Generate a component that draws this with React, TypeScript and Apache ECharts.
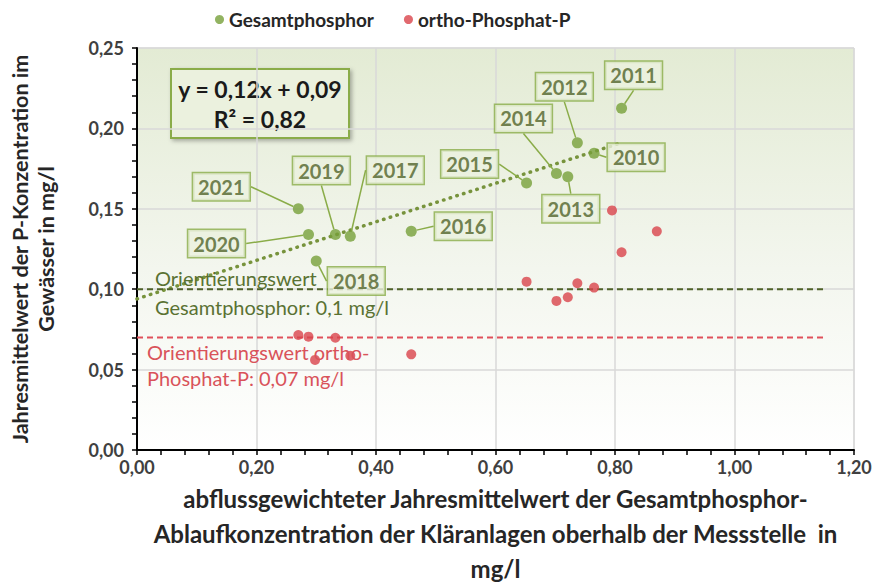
import React, { useEffect, useRef } from "react";
import * as echarts from "echarts";

// ---- data ----
const years = ["2010", "2011", "2012", "2013", "2014", "2015", "2016", "2017", "2018", "2019", "2020", "2021"];
const gesamtX = [0.765, 0.811, 0.737, 0.721, 0.702, 0.652, 0.459, 0.357, 0.300, 0.332, 0.287, 0.270];
const gesamtY = [0.1845, 0.2125, 0.191, 0.170, 0.172, 0.166, 0.136, 0.133, 0.1175, 0.134, 0.134, 0.150];

const orthoX = [0.270, 0.287, 0.332, 0.298, 0.357, 0.459, 0.652, 0.702, 0.721, 0.737, 0.765, 0.795, 0.811, 0.870];
const orthoY = [0.0715, 0.0705, 0.0698, 0.056, 0.0586, 0.0595, 0.1047, 0.0927, 0.095, 0.1037, 0.101, 0.149, 0.123, 0.136];

const trendX = [0, 0.81];
const trendY = [0.094, 0.191];

const refX = [0, 1.15];
const refGesamt = 0.1;
const refOrtho = 0.07;

const xTicks = { min: 0, max: 1.2, interval: 0.2 };
const yTicks = { min: 0, max: 0.25, interval: 0.05 };

const seriesNames = ["Gesamtphosphor", "ortho-Phosphat-P"];
const equationText = "y = 0,12x + 0,09\nR² = 0,82";
const refGesamtLines = ["Orientierungswert", "Gesamtphosphor: 0,1 mg/l"];
const refOrthoLines = ["Orientierungswert ortho-", "Phosphat-P: 0,07 mg/l"];
const xTitle = "abflussgewichteter Jahresmittelwert der Gesamtphosphor-\nAblaufkonzentration der Kläranlagen oberhalb der Messstelle  in\nmg/l";
const yTitle = "Jahresmittelwert der P-Konzentration im\nGewässer in mg/l";

// ---- layout (callout offsets in px, per year) ----
const calloutOffsets: Record<string, [number, number]> = {
  "2010": [42, 4],
  "2011": [12, -33],
  "2012": [-13, -56],
  "2013": [3, 32],
  "2014": [-33, -55],
  "2015": [-57, -19],
  "2016": [52, -5],
  "2017": [45, -66],
  "2018": [40, 20],
  "2019": [-14, -64],
  "2020": [-92, 9],
  "2021": [-77, -22],
};

const FONT = "Lato, 'Open Sans', sans-serif";
const GREEN = "#77a03a";
const DARK_GREEN = "#4f6228";
const RED = "#d9444b";

const fmt = (v: number) => v.toFixed(2).replace(".", ",");

export default function App() {
  const ref = useRef<HTMLDivElement>(null);

  useEffect(() => {
    document.body.style.margin = "0";
    if (!ref.current) return;
    const chart = echarts.init(ref.current, undefined, { renderer: "svg" });

    const axisCommon = {
      axisLine: { show: true, onZero: false, lineStyle: { color: "#000", width: 2 } },
      axisTick: { show: true, length: 5, lineStyle: { color: "#000", width: 1.5 } },
      minorTick: { show: true, splitNumber: 5, length: 5, lineStyle: { color: "#000", width: 1.5 } },
      splitLine: { show: true, lineStyle: { color: "#d9d9d9", width: 1.5 } },
      axisLabel: {
        formatter: (v: number) => fmt(v),
        fontFamily: FONT,
        fontSize: 18,
        fontWeight: "bold",
        color: "#404040",
      },
    };

    const annText = (text: string, left: number, centerY: number, fill: string) => ({
      type: "text",
      left,
      top: centerY - 10,
      z: 50,
      style: { text, fontFamily: FONT, fontSize: 20, fill, lineHeight: 20 },
    });

    const option: any = {
      animation: false,
      textStyle: { fontFamily: FONT },
      legend: {
        data: seriesNames,
        top: 5,
        left: 210,
        icon: "circle",
        itemWidth: 9,
        itemHeight: 9,
        itemGap: 30,
        textStyle: { fontFamily: FONT, fontSize: 19, fontWeight: "bold", color: "#262626" },
      },
      grid: {
        left: 137,
        right: 29,
        top: 48,
        bottom: 135,
        outerBoundsMode: "none",
        show: true,
        borderColor: "#d9d9d9",
        borderWidth: 1,
        backgroundColor: new echarts.graphic.LinearGradient(0, 0, 0, 1, [
          { offset: 0, color: "#e3ebd4" },
          { offset: 0.55, color: "#f3f6ee" },
          { offset: 1, color: "#ffffff" },
        ]),
      },
      xAxis: {
        type: "value",
        ...xTicks,
        ...axisCommon,
        axisLabel: { ...axisCommon.axisLabel, margin: 8 },
        name: xTitle,
        nameLocation: "middle",
        nameGap: 29,
        nameTextStyle: { fontFamily: FONT, fontSize: 24, fontWeight: "bold", color: "#262626", lineHeight: 35 },
      },
      yAxis: {
        type: "value",
        ...yTicks,
        ...axisCommon,
        axisLabel: { ...axisCommon.axisLabel, margin: 13 },
        name: yTitle,
        nameLocation: "middle",
        nameRotate: 90,
        nameGap: 78,
        nameTextStyle: { fontFamily: FONT, fontSize: 21.5, fontWeight: "bold", color: "#262626", lineHeight: 26 },
      },
      series: [
        {
          name: "trend",
          type: "line",
          data: trendX.map((x, i) => [x, trendY[i]]),
          symbol: "none",
          silent: true,
          z: 1,
          lineStyle: { color: "#77933c", width: 3.5, type: [0.5, 6.5], cap: "round" },
        },
        {
          name: "refGesamt",
          type: "line",
          data: refX.map((x) => [x, refGesamt]),
          symbol: "none",
          silent: true,
          z: 1,
          lineStyle: { color: DARK_GREEN, width: 2, type: [6, 4] },
        },
        {
          name: "refOrtho",
          type: "line",
          data: refX.map((x) => [x, refOrtho]),
          symbol: "none",
          silent: true,
          z: 1,
          lineStyle: { color: "#e0505a", width: 2, type: [6, 4] },
        },
        {
          name: seriesNames[1],
          type: "scatter",
          symbolSize: 10,
          z: 3,
          itemStyle: { color: RED },
          data: orthoX.map((x, i) => [x, orthoY[i]]),
        },
        {
          name: seriesNames[0],
          type: "scatter",
          symbolSize: 11,
          z: 4,
          itemStyle: { color: GREEN },
          labelLine: { show: true, lineStyle: { color: "#8aac48", width: 1.5 } },
          data: gesamtX.map((x, i) => ({
            value: [x, gesamtY[i]],
            label: {
              show: true,
              formatter: years[i],
              position: "inside",
              offset: calloutOffsets[years[i]],
              align: "center",
              verticalAlign: "middle",
              fontFamily: FONT,
              fontSize: 20,
              fontWeight: "bold",
              color: DARK_GREEN,
              backgroundColor: "#ebf1de",
              borderColor: "#8aac48",
              borderWidth: 1.5,
              padding: [4, 5, 3, 5],
            },
          })),
        },
      ],
      graphic: [
        {
          type: "group",
          left: 170,
          top: 68,
          z: 100,
          children: [
            {
              type: "rect",
              shape: { x: 0, y: 0, width: 178, height: 69 },
              style: {
                fill: "#ebf1de",
                stroke: "#8aac48",
                lineWidth: 2,
                shadowBlur: 4,
                shadowOffsetX: 2,
                shadowOffsetY: 2,
                shadowColor: "rgba(0,0,0,0.3)",
              },
            },
            {
              type: "text",
              x: 89,
              y: 35,
              style: {
                text: equationText,
                align: "center",
                verticalAlign: "middle",
                fontFamily: FONT,
                fontSize: 23,
                fontWeight: "bold",
                fill: "#1a1a1a",
                lineHeight: 30,
              },
            },
          ],
        },
        annText(refGesamtLines[0], 155, 278, "#5a7233"),
        annText(refGesamtLines[1], 155, 307, "#5a7233"),
        annText(refOrthoLines[0], 147, 352, "#d9535a"),
        annText(refOrthoLines[1], 147, 378, "#d9535a"),
      ],
    };

    chart.setOption(option);
    return () => chart.dispose();
  }, []);

  return <div ref={ref} style={{ width: 883, height: 585 }} />;
}
